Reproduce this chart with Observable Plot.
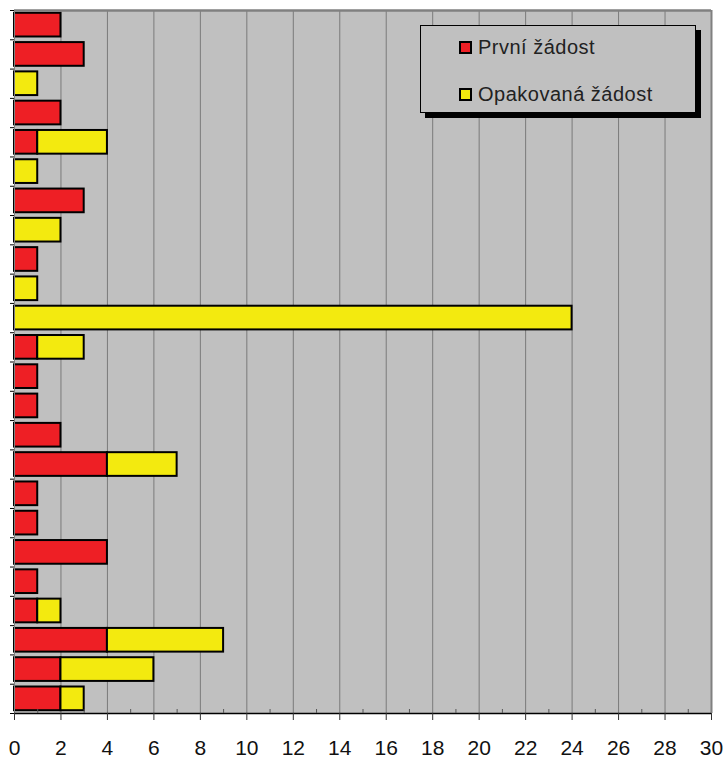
<!DOCTYPE html>
<html>
<head>
<meta charset="utf-8">
<script src="https://cdn.jsdelivr.net/npm/d3@7"></script>
<script src="https://cdn.jsdelivr.net/npm/@observablehq/plot@0.6"></script>
<style>
  body { margin: 0; background: #fff; font-family: "Liberation Sans", Arial, sans-serif; }
  #wrap { position: relative; width: 725px; height: 757px; }
  #legend {
    position: absolute; left: 420px; top: 25px; width: 274px; height: 86px;
    background: #c0c0c0; border: 1px solid #000; box-shadow: 5px 5px 0 #000;
    font-size: 20px; letter-spacing: 0.5px; color: #222;
  }
  .item { position: absolute; left: 38px; display: flex; align-items: center; }
  .sw { width: 9px; height: 9px; border: 2px solid #000; margin-right: 6px; }
</style>
</head>
<body>
<div id="wrap">
  <div id="chart"></div>
  <div id="legend"></div>
</div>
<script>
const seriesNames = ["První žádost", "Opakovaná žádost"];
const seriesColors = ["#ee1f25", "#f3ea0f"];
const rows = d3.range(1, 25);
const first  = [2,3,0,2,1,0,3,0,1,0,0,1,1,1,2,4,1,1,4,1,1,4,2,2];
const repeat = [0,0,1,0,3,1,0,2,0,1,24,2,0,0,0,3,0,0,0,0,1,5,4,1];
const xTicks = d3.range(0, 31, 2);
const xMinor = d3.range(1, 30, 2);

const data = [];
rows.forEach((r, i) => {
  if (first[i] > 0) data.push({i, series: seriesNames[0], x1: 0, x2: first[i]});
  if (repeat[i] > 0) data.push({i, series: seriesNames[1], x1: first[i], x2: first[i] + repeat[i]});
});

const chart = Plot.plot({
  width: 725,
  height: 757,
  marginLeft: 14,
  marginRight: 14,
  marginTop: 10,
  marginBottom: 44,
  style: { fontFamily: '"Liberation Sans", Arial, sans-serif', background: "transparent", overflow: "visible" },
  x: { domain: [0, 30], axis: null },
  y: { domain: [rows.length, 0], axis: null },
  color: { domain: seriesNames, range: seriesColors },
  marks: [
    Plot.frame({ fill: "#c0c0c0", stroke: null }),
    Plot.gridX(xTicks.slice(1, -1), { stroke: "#7a7a7a", strokeOpacity: 1, strokeWidth: 1 }),
    Plot.rectX(data, {
      x1: "x1", x2: "x2",
      y1: d => d.i, y2: d => d.i + 1,
      insetTop: 2.8, insetBottom: 2.8,
      fill: "series", stroke: "#000", strokeWidth: 2
    }),
    Plot.ruleY([0], { stroke: "#808080", strokeWidth: 2.5 }),
    Plot.ruleX([30], { stroke: "#808080", strokeWidth: 2 }),
    Plot.ruleX([0], { stroke: "#808080", strokeWidth: 1 }),
    Plot.ruleY([rows.length], { stroke: "#000", strokeWidth: 1.5 }),
    Plot.axisY(d3.range(0, rows.length + 1), { anchor: "left", tickSize: 4, tickFormat: () => "", label: null, stroke: "#000" }),
    Plot.axisX(xMinor, { anchor: "bottom", tickSize: 4, dy: -4, tickFormat: () => "", label: null, stroke: "#555" }),
    Plot.axisX(xTicks, { anchor: "bottom", tickSize: 7, tickFormat: () => "", label: null, stroke: "#333" }),
    Plot.text(xTicks, {
      x: d => d, text: d => String(d), frameAnchor: "bottom", lineAnchor: "bottom",
      dy: 41, fontSize: 21, fill: "#111", textAnchor: "middle"
    })
  ]
});
document.getElementById("chart").appendChild(chart);

const legend = document.getElementById("legend");
seriesNames.forEach((name, k) => {
  const it = document.createElement("div");
  it.className = "item";
  it.style.top = (k === 0 ? 10 : 57) + "px";
  const sw = document.createElement("div");
  sw.className = "sw";
  sw.style.background = seriesColors[k];
  const tx = document.createElement("span");
  tx.textContent = name;
  it.appendChild(sw);
  it.appendChild(tx);
  legend.appendChild(it);
});
</script>
</body>
</html>
